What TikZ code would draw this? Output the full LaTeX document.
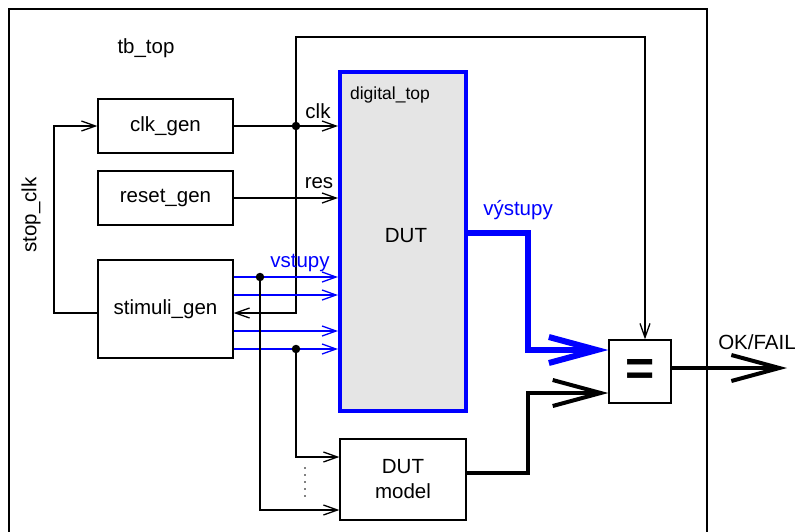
\documentclass[tikz,border=0pt]{standalone}
\usepackage{fontspec}
\setmainfont{Liberation Sans}
\usetikzlibrary{arrows.meta,calc}
\definecolor{dutgray}{RGB}{229,229,229}
\begin{document}
\begin{tikzpicture}[x=1pt,y=-1pt,
  every node/.style={font=\fontsize{20.5}{24}\selectfont, inner sep=0pt},
  blk/.style={draw, line width=1.3pt, fill=white, minimum width=#1},
  thin/.style={line width=1.3pt},
  tip/.style={-{Straight Barb[length=14pt,width=10pt]}},
  bigtip/.style={-{Straight Barb[length=48pt,width=26pt]}},
  dot/.style={circle, fill=black, minimum size=8.5pt, inner sep=0pt},
  lbl/.style={anchor=center}
]
\useasboundingbox (0,0) rectangle (798,531);
\clip (0,0) rectangle (798,531);
\fill[white] (0,0) rectangle (798,531);
% outer frame
\draw[thin] (9,9) rectangle (707,560);
\node[lbl] (tbtop) at (146,48) {tb\_top};

% blocks
\node[blk=135pt, minimum height=54pt] (clkgen) at (165.5,126) {clk\_gen};
\node[blk=135pt, minimum height=54pt] (resetgen) at (165.5,198) {reset\_gen};
\node[blk=135pt, minimum height=98pt] (stim) at (165.5,309) {stimuli\_gen};
\node[draw=blue, line width=4pt, fill=dutgray, minimum width=126pt, minimum height=339pt] (dut) at (403,241.5) {};
\node[lbl] (duttxt) at (406,236) {DUT};
\node[font=\fontsize{17.5}{20}\selectfont] (dtop) at (390,95) {digital\_top};
\node[blk=126pt, minimum height=81pt, align=center] (model) at (403,479.5) {DUT\\[1pt]model};
\node[blk=62pt, minimum height=63pt] (eq) at (640,371.5) {};
\node[font=\fontsize{50}{50}\selectfont\bfseries] (eqsign) at (640,372) {=};

% coordinates
\coordinate (j1) at (296,126);
\coordinate (ctop) at (645,37);
\coordinate (cfb) at (296,313);
\coordinate (sl) at (54,313);
\coordinate (slt) at (54,126);
\coordinate (j2) at (260,277);
\coordinate (j3) at (296,349);

% clk
\draw[thin,tip] (clkgen.east) -- (dut.west |- clkgen.east);
\node[lbl] (clklbl) at (318,111) {clk};
% loop to comparator
\draw[thin,tip] (j1) |- (ctop) -- (ctop |- eq.north);
% clk feedback into stimuli
\draw[thin,tip] (j1) -- (cfb) -- (stim.east |- cfb);
% stop_clk
\draw[thin,tip] (stim.west |- cfb) -- (sl) -- (slt) -- (clkgen.west);
\node[lbl, rotate=90] (stopclk) at (31,215) {stop\_clk};
% res
\draw[thin,tip] (resetgen.east) -- (dut.west |- resetgen.east);
\node[lbl] (reslbl) at (319,183) {res};

% blue inputs
\foreach \yy in {277,295,331,349}{
  \draw[thin,blue,tip] (stim.east |- 0,\yy) -- (dut.west |- 0,\yy);
}
\node[lbl, text=blue] (vst) at (300,263) {vstupy};

% branches to model
\draw[thin,tip] (j2) |- (model.west |- 0,510);
\draw[thin,tip] (j3) |- (model.west |- 0,457);
\node[dot] (d1) at (j1) {};
\node[dot] (d2) at (j2) {};
\node[dot] (d3) at (j3) {};
\foreach \yy in {468,475,482,489,496}{
  \fill (305,\yy) circle (0.9pt);
}

% outputs
\draw[blue, line width=6pt, bigtip, line join=miter] (dut.east |- 0,233) -- (528,233) -- (528,350) -- (eq.west |- 0,350);
\node[lbl, text=blue] (vyst) at (518,210) {výstupy};
\draw[line width=4pt, bigtip, line join=miter] (model.east |- 0,473) -- (528,473) -- (528,393) -- (eq.west |- 0,393);
\draw[line width=4pt, bigtip] (eq.east |- 0,368) -- (787,368);
\node[lbl] (okfail) at (757,342) {OK/FAIL};
\end{tikzpicture}
\end{document}
